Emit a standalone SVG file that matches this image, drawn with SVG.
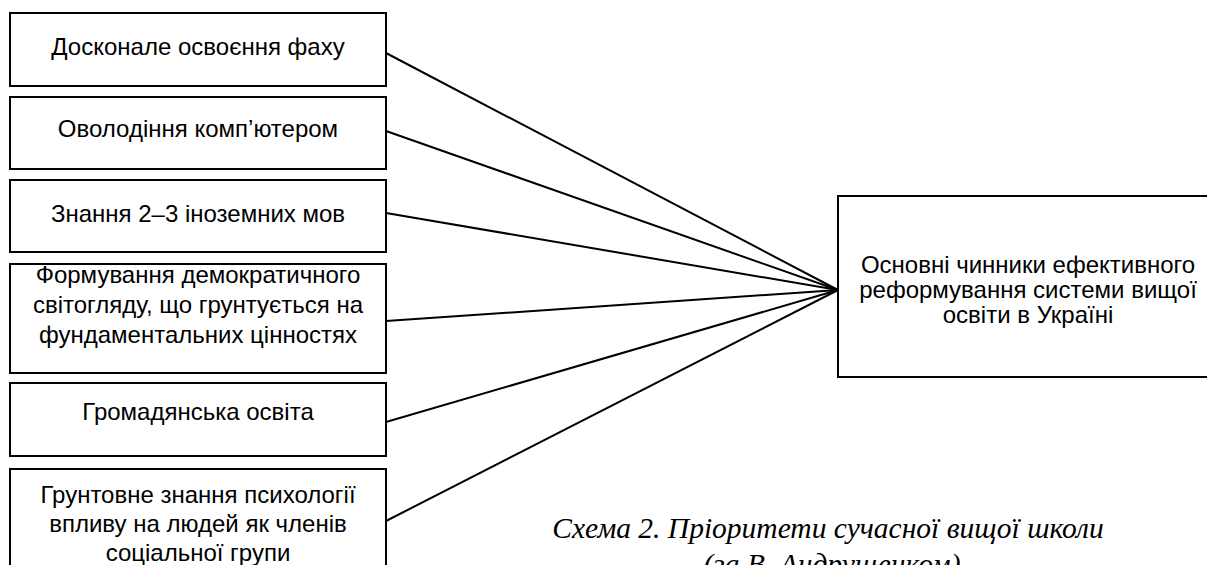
<svg xmlns="http://www.w3.org/2000/svg" width="1207" height="565" viewBox="0 0 1207 565">
<style>
.box{fill:#fff;stroke:#000;stroke-width:2}
.t{font-family:"Liberation Sans",Arial,sans-serif;font-size:24px;fill:#000;text-anchor:middle}
.c{stroke:#000;stroke-width:2;fill:none}
.cap{font-family:"Liberation Serif","Times New Roman",serif;font-style:italic;font-size:29.5px;fill:#000;text-anchor:middle}
</style>
<rect width="1207" height="565" fill="#fff"/>
<g id="connectors">
<line class="c" x1="386" y1="53" x2="838" y2="290"/>
<line class="c" x1="386" y1="131" x2="838" y2="290"/>
<line class="c" x1="386" y1="213" x2="838" y2="290"/>
<line class="c" x1="386" y1="321" x2="838" y2="290"/>
<line class="c" x1="386" y1="422" x2="838" y2="290"/>
<line class="c" x1="386" y1="521" x2="838" y2="290"/>
</g>
<g id="n1"><rect class="box" x="10" y="13" width="376" height="73"/><text class="t" x="198" y="55">Досконале освоєння фаху</text></g>
<g id="n2"><rect class="box" x="10" y="97" width="376" height="72"/><text class="t" x="198" y="137">Оволодіння комп’ютером</text></g>
<g id="n3"><rect class="box" x="10" y="180" width="376" height="72"/><text class="t" x="198" y="222">Знання 2–3 іноземних мов</text></g>
<g id="n4"><rect class="box" x="10" y="264" width="376" height="109"/><text class="t" x="198" y="283">Формування демократичного</text><text class="t" x="198" y="313">світогляду, що грунтується на</text><text class="t" x="198" y="343">фундаментальних цінностях</text></g>
<g id="n5"><rect class="box" x="10" y="383" width="376" height="73"/><text class="t" x="198" y="420">Громадянська освіта</text></g>
<g id="n6"><rect class="box" x="10" y="469" width="376" height="110"/><text class="t" x="198" y="503">Грунтовне знання психології</text><text class="t" x="198" y="532">впливу на людей як членів</text><text class="t" x="198" y="561">соціальної групи</text></g>
<g id="target"><rect class="box" x="838" y="196" width="390" height="181"/><text class="t" x="1028" y="273">Основні чинники ефективного</text><text class="t" x="1028" y="298">реформування системи вищої</text><text class="t" x="1028" y="323">освіти в Україні</text></g>
<g id="caption"><text class="cap" x="828" y="538">Схема 2. Пріоритети сучасної вищої школи</text><text class="cap" x="832" y="574">(за В. Андрущенком)</text></g>
</svg>
